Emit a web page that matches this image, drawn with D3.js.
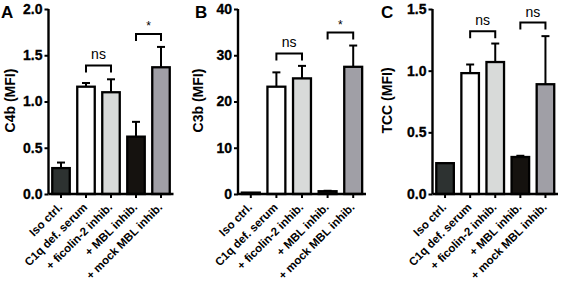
<!DOCTYPE html>
<html><head><meta charset="utf-8">
<script src="https://cdn.jsdelivr.net/npm/d3@7"></script>
<style>body{margin:0;background:#fff}svg{display:block}</style>
</head><body><svg id="c" width="561" height="282"></svg>
<script>
const categories = ["Iso ctrl.", "C1q def. serum", "+ ficolin-2 inhib.", "+ MBL inhib.", "+ mock MBL inhib."];
const barColors = ["#2d3231", "#ffffff", "#d8dad9", "#15120f", "#a09fa6"];
const c4bMeans = [0.28, 1.16, 1.10, 0.62, 1.37];
const c4bErr   = [0.06, 0.04, 0.14, 0.16, 0.22];
const c3bMeans = [0.3, 23.2, 25.0, 0.6, 27.5];
const c3bErr   = [0.0, 3.1, 2.7, 0.1, 4.6];
const tccMeans = [0.25, 0.98, 1.07, 0.30, 0.89];
const tccErr   = [0.0, 0.07, 0.15, 0.01, 0.39];
const c4bTicks = [0, 0.5, 1.0, 1.5, 2.0];
const c3bTicks = [0, 10, 20, 30, 40];
const tccTicks = [0, 0.5, 1.0, 1.5];
const c4bSig = [{a:1,b:2,y:1.39,t:"ns"},{a:3,b:4,y:1.73,t:"*"}];
const c3bSig = [{a:1,b:2,y:30.4,t:"ns"},{a:3,b:4,y:34.9,t:"*"}];
const tccSig = [{a:1,b:2,y:1.32,t:"ns"},{a:3,b:4,y:1.39,t:"ns"}];

const FF = "'Liberation Sans', Arial, sans-serif";
const panels = [
  {letter:"A", label:"C4b (MFI)", means:c4bMeans, err:c4bErr, ticks:c4bTicks, max:2.0, fmt:d3.format(".1f"), sig:c4bSig, x0:48.5, x1:173.5, lx:1, ylx:15},
  {letter:"B", label:"C3b (MFI)", means:c3bMeans, err:c3bErr, ticks:c3bTicks, max:40, fmt:d3.format("d"), sig:c3bSig, x0:238, x1:366, lx:195, ylx:203},
  {letter:"C", label:"TCC (MFI)", means:tccMeans, err:tccErr, ticks:tccTicks, max:1.5, fmt:d3.format(".1f"), sig:tccSig, x0:432.5, x1:558, lx:381, ylx:392}
];
const svg = d3.select("#c");
const yTop = 9, yBase = 194;
function txt(sel, size, weight) {
  return sel.attr("font-family", FF).attr("font-size", size).attr("font-weight", weight || "bold")
    .style("font-family", FF).style("font-size", size + "px").style("font-weight", weight || "bold").style("fill", "#000");
}
panels.forEach(p => {
  const g = svg.append("g");
  const x = d3.scaleBand().domain(categories).range([p.x0, p.x1]).paddingInner(0.3).paddingOuter(0.15);
  const y = d3.scaleLinear().domain([0, p.max]).range([yBase, yTop]);
  categories.forEach((c, i) => {
    const top = y(p.means[i]);
    g.append("rect").attr("x", x(c)).attr("y", top).attr("width", x.bandwidth()).attr("height", Math.max(0.5, yBase - top))
      .attr("fill", barColors[i]).attr("stroke", "#000").attr("stroke-width", 2.3);
    if (p.err[i] > 0.001 * p.max) {
      const cx = x(c) + x.bandwidth() / 2, et = y(p.means[i] + p.err[i]);
      g.append("line").attr("x1", cx).attr("x2", cx).attr("y1", top).attr("y2", et).attr("stroke", "#000").attr("stroke-width", 2);
      g.append("line").attr("x1", cx - 4).attr("x2", cx + 4).attr("y1", et).attr("y2", et).attr("stroke", "#000").attr("stroke-width", 2);
    }
  });
  const ya = g.append("g").attr("transform", `translate(${p.x0},0)`)
    .call(d3.axisLeft(y).tickValues(p.ticks).tickFormat(p.fmt).tickSize(4).tickPadding(2));
  ya.select(".domain").attr("stroke-width", 2.4).attr("d", `M0,${yBase}V${yTop}`);
  ya.selectAll(".tick line").attr("stroke-width", 2);
  txt(ya.selectAll(".tick text"), 14).attr("stroke", "#000").attr("stroke-width", 0.3);
  const xa = g.append("g").attr("transform", `translate(0,${yBase})`)
    .call(d3.axisBottom(x).tickSize(4).tickFormat(""));
  xa.select(".domain").attr("stroke-width", 2.4).attr("d", `M${p.x0},0H${p.x1}`);
  xa.selectAll(".tick line").attr("stroke-width", 2);
  categories.forEach(c => {
    const cx = x(c) + x.bandwidth() / 2;
    txt(g.append("text").attr("transform", `translate(${cx + 2},${yBase + 14}) rotate(-45)`)
      .attr("text-anchor", "end").text(c), 11.5);
  });
  txt(g.append("text").attr("transform", `translate(${p.ylx},${(yBase + yTop) / 2 - 1}) rotate(-90)`)
    .attr("text-anchor", "middle").text(p.label), 14);
  txt(g.append("text").attr("x", p.lx).attr("y", 18).text(p.letter), 17);
  p.sig.forEach(s => {
    const xa1 = x(categories[s.a]) + x.bandwidth() / 2, xb = x(categories[s.b]) + x.bandwidth() / 2, yy = y(s.y);
    g.append("path").attr("d", `M${xa1},${yy + 7}V${yy}H${xb}V${yy + 7}`).attr("fill", "none").attr("stroke", "#000").attr("stroke-width", 2);
    txt(g.append("text").attr("x", (xa1 + xb) / 2).attr("y", s.t === "*" ? yy - 4 : yy - 6).attr("text-anchor", "middle").text(s.t),
      s.t === "*" ? 12 : 14, "normal");
  });
});
</script></body></html>
